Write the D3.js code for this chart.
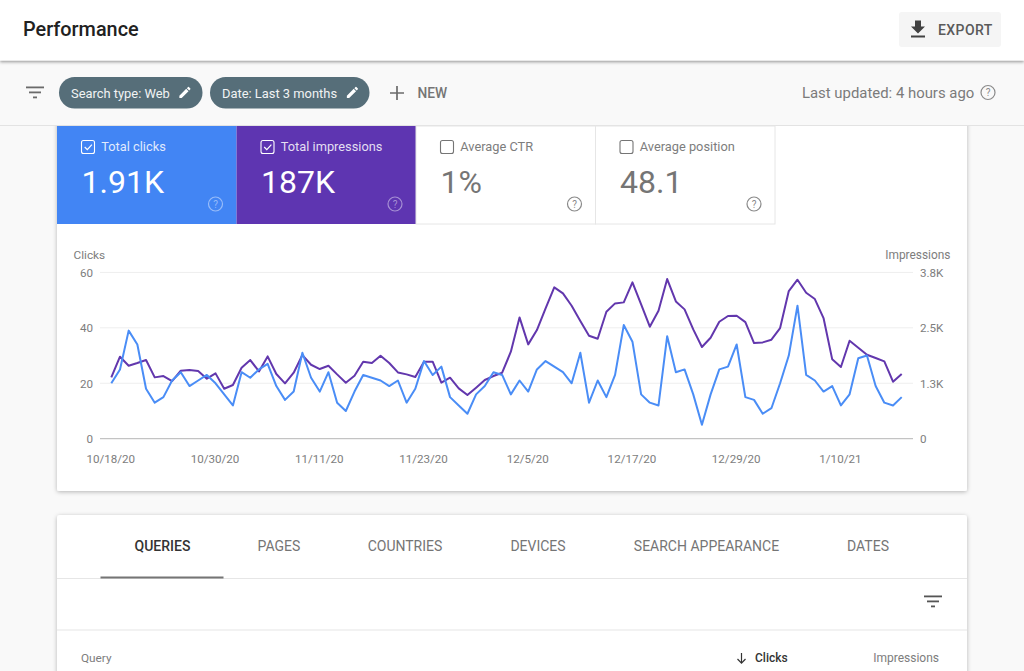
<!DOCTYPE html>
<html>
<head>
<meta charset="utf-8">
<script src="https://cdn.jsdelivr.net/npm/d3@7"></script>
<style>
html,body{margin:0;padding:0;background:#f9f9f9;overflow:hidden}
svg{display:block}
text{font-family:Roboto,sans-serif}
.axis path,.axis line{display:none}
.axis text{font-family:Roboto,sans-serif;font-size:11.6px;fill:#7d7d7d}
</style>
</head>
<body>
<div id="chart"></div>
<script>
const startDate = "10/18/20";
const clicks = [20,25,39,34,18,13,15,21,24,19,21,23,20,16,12,24,22,25,27,19,14,17,31,22,17,24,13,10,17,23,22,21,19,21,13,18,28,23,26,15,12,9,16,19,24,23,16,21,17,25,28,26,24,20,31,13,21,15,23,41,35,16,13,12,37,24,25,16,5,16,25,26,34,15,14,9,11,20,30,48,23,21,17,19,12,16,29,30,19,13,12,15];
const impressions = [1383,1849,1646,1706,1774,1383,1413,1300,1533,1548,1526,1353,1473,1127,1210,1601,1774,1518,1856,1458,1248,1488,1886,1668,1571,1646,1450,1263,1420,1736,1706,1871,1706,1495,1450,1390,1736,1736,1263,1375,1135,984,1150,1323,1413,1488,1961,2735,2127,2450,2938,3412,3276,2998,2653,2322,2254,2863,3051,3074,3525,3029,2525,2886,3600,3096,2916,2465,2067,2277,2638,2766,2773,2630,2157,2172,2232,2495,3329,3585,3291,3149,2720,1789,1616,2209,2052,1894,1819,1744,1285,1458];
const xTickLabels = ["10/18/20","10/30/20","11/11/20","11/23/20","12/5/20","12/17/20","12/29/20","1/10/21"];
const clickTicks = [0,20,40,60];
const impressionTicks = [0,1250,2500,3750];
const impressionTickLabels = ["0","1.3K","2.5K","3.8K"];
const metricLabels = ["Total clicks","Total impressions","Average CTR","Average position"];
const metricValues = ["1.91K","187K","1%","48.1"];
const tabLabels = ["QUERIES","PAGES","COUNTRIES","DEVICES","SEARCH APPEARANCE","DATES"];

const W = 1024, H = 671;
const svg = d3.select("#chart").append("svg").attr("width",W).attr("height",H).attr("viewBox",`0 0 ${W} ${H}`);
const defs = svg.append("defs");
function shadow(id,dy,sd,op){
  const f = defs.append("filter").attr("id",id).attr("x","-5%").attr("y","-20%").attr("width","110%").attr("height","140%");
  f.append("feDropShadow").attr("dx",0).attr("dy",dy).attr("stdDeviation",sd).attr("flood-color","#000").attr("flood-opacity",op);
}
shadow("sh1",1.5,1.5,0.4);
shadow("sh2",1,2,0.28);

function txt(g,x,y,s,size,fill,opts={}){
  return g.append("text").attr("x",x).attr("y",y).text(s)
    .attr("font-size",size).attr("fill",fill)
    .attr("font-weight",opts.w||400).attr("text-anchor",opts.a||"start")
    .attr("letter-spacing",opts.ls||null);
}
function help(g,cx,cy,col){
  g.append("circle").attr("cx",cx).attr("cy",cy).attr("r",7).attr("fill","none").attr("stroke",col).attr("stroke-width",1.2);
  txt(g,cx,cy+3.6,"?",10,col,{a:"middle"});
}
function pencil(g,x,y,col){
  g.append("path").attr("transform",`translate(${x},${y}) scale(0.62)`).attr("fill",col)
   .attr("d","M3 17.25V21h3.75L17.81 9.94l-3.75-3.75L3 17.25zM20.71 7.04a1 1 0 0 0 0-1.41l-2.34-2.34a1 1 0 0 0-1.41 0l-1.83 1.83 3.75 3.75 1.83-1.83z");
}
function filterIcon(g,cx,cy,col){
  [[-9,18],[-6,12],[-2,4]].forEach((d,i)=>{
    g.append("rect").attr("x",cx+d[0]).attr("y",cy-6+i*5).attr("width",d[1]).attr("height",1.8).attr("fill",col);
  });
}

/* main card */
const page = svg.append("g");
page.append("rect").attr("x",57).attr("y",110).attr("width",910).attr("height",381).attr("rx",2).attr("fill","#fff").attr("filter","url(#sh2)");
page.append("rect").attr("x",57).attr("y",515).attr("width",910).attr("height",170).attr("rx",3).attr("fill","#fff").attr("filter","url(#sh2)");

/* filter bar */
const bar = svg.append("g");
bar.append("rect").attr("x",0).attr("y",60).attr("width",W).attr("height",65).attr("fill","#f9f9f9");
bar.append("rect").attr("x",0).attr("y",125).attr("width",W).attr("height",1).attr("fill","#e3e3e3");
filterIcon(bar,35,92.5,"#6b6b6b");
bar.append("rect").attr("x",59).attr("y",77).attr("width",143.5).attr("height",31.5).attr("rx",15.7).attr("fill","#566e79");
txt(bar,71,97.5,"Search type: Web",12.9,"#f1f3f4");
pencil(bar,177.5,85,"#fff");
bar.append("rect").attr("x",210).attr("y",77).attr("width",159.5).attr("height",31.5).attr("rx",15.7).attr("fill","#566e79");
txt(bar,222,97.5,"Date: Last 3 months",12.9,"#f1f3f4");
pencil(bar,345,85,"#fff");
bar.append("path").attr("d","M397 86v14M390 93h14").attr("stroke","#6b6b6b").attr("stroke-width",1.7).attr("fill","none");
txt(bar,417.5,97.5,"NEW",13.8,"#757575",{w:500});
txt(bar,802,97.5,"Last updated: 4 hours ago",14.9,"#7b7b7b");
help(bar,988,92.5,"#8a8a8a");

/* header */
const head = svg.append("g");
head.append("rect").attr("x",0).attr("y",0).attr("width",W).attr("height",60.5).attr("fill","#fff").attr("filter","url(#sh1)");
txt(head,23,35.5,"Performance",19.85,"#212121",{w:500});
head.append("rect").attr("x",899).attr("y",12).attr("width",102).attr("height",35).attr("rx",3).attr("fill","#f5f5f5");
head.append("path").attr("transform","translate(906,17.5) scale(1)").attr("fill","#424242").attr("d","M19 9h-4V3H9v6H5l7 7 7-7zM5 18v2h14v-2H5z");
txt(head,938,34.5,"EXPORT",14,"#5a5a5a",{w:500,ls:"0.4px"});

/* metric tiles */
const tileX = d3.scaleBand().domain(d3.range(metricLabels.length)).range([57,775]);
const tileBg = ["#4285f4","#5e35b1","#fff","#fff"];
const tiles = svg.append("g").selectAll("g").data(metricLabels).join("g")
  .attr("transform",(d,i)=>`translate(${tileX(i)},126)`);
tiles.append("rect").attr("width",tileX.bandwidth()).attr("height",98).attr("fill",(d,i)=>tileBg[i])
  .attr("stroke",(d,i)=>i>1?"#e6e6e6":"none").attr("stroke-width",1);
tiles.each(function(d,i){
  const g = d3.select(this), on = i<2;
  g.append("rect").attr("x",24.5).attr("y",14.5).attr("width",13).attr("height",13).attr("rx",2)
    .attr("fill","none").attr("stroke",on?"#fff":"#757575").attr("stroke-width",1.1);
  if(on) g.append("path").attr("d","M27.7 21l2.6 2.6 4.6-5").attr("fill","none").attr("stroke","#fff").attr("stroke-width",1.2);
  txt(g,44.3,25,d,12.8,on?"rgba(255,255,255,0.85)":"#7d7d7d");
  txt(g,24.5,67,metricValues[i],32,on?"#fff":"#757575");
  help(g,158.5,78,on?"rgba(255,255,255,0.45)":"#8a8a8a");
});

/* line chart */
const parse = d3.timeParse("%m/%d/%y");
const dates = clicks.map((d,i)=>d3.timeDay.offset(parse(startDate),i));
const x = d3.scaleTime().domain([dates[0],dates[dates.length-1]]).range([111.3,901.7]);
const yL = d3.scaleLinear().domain([0,60]).range([438.7,272.4]);
const yR = d3.scaleLinear().domain([0,3750]).range([438.7,272.4]);
const chart = svg.append("g");

chart.append("g").selectAll("line").data(clickTicks).join("line")
  .attr("x1",100).attr("x2",913).attr("y1",d=>yL(d)).attr("y2",d=>yL(d))
  .attr("stroke",d=>d===0?"#b5b5b5":"#eeeeee").attr("stroke-width",1);

chart.append("g").attr("class","axis").attr("transform","translate(93,-0.3)")
  .call(d3.axisLeft(yL).tickValues(clickTicks).tickSize(0).tickPadding(0))
  .selectAll("text").attr("dy","0.36em");
chart.append("g").attr("class","axis").attr("transform","translate(920,-0.3)")
  .call(d3.axisRight(yR).tickValues(impressionTicks).tickSize(0).tickPadding(0).tickFormat((d,i)=>impressionTickLabels[i]))
  .selectAll("text").attr("dy","0.36em");
chart.append("g").attr("class","axis").attr("transform","translate(-1,455)")
  .call(d3.axisBottom(x).tickValues(xTickLabels.map(parse)).tickSize(0).tickPadding(0).tickFormat((d,i)=>xTickLabels[i]))
  .selectAll("text").attr("y",0).attr("dy","0.71em");

txt(chart,73.5,259,"Clicks",11.8,"#7d7d7d");
txt(chart,950.5,259,"Impressions",11.9,"#7d7d7d",{a:"end"});

const lineL = d3.line().x((d,i)=>x(dates[i])).y(d=>yL(d));
const lineR = d3.line().x((d,i)=>x(dates[i])).y(d=>yR(d));
chart.append("path").datum(impressions).attr("d",lineR).attr("fill","none").attr("stroke","#6237ad").attr("stroke-width",2).attr("stroke-linejoin","round");
chart.append("path").datum(clicks).attr("d",lineL).attr("fill","none").attr("stroke","#4a8df6").attr("stroke-width",2).attr("stroke-linejoin","round");

/* table card */
const tbl = svg.append("g");
const tabCx = [162.5,279,405,538,706.5,868];
tabLabels.forEach((t,i)=>txt(tbl,tabCx[i],551,t,14,i===0?"#333":"#757575",{a:"middle",w:i===0?500:400}));
tbl.append("rect").attr("x",57).attr("y",578).attr("width",910).attr("height",1).attr("fill","#e6e6e6");
tbl.append("rect").attr("x",100.5).attr("y",576.5).attr("width",123).attr("height",2).attr("fill","#757575");
tbl.append("rect").attr("x",57).attr("y",629.5).attr("width",910).attr("height",1).attr("fill","#e6e6e6");
filterIcon(tbl,933,601.5,"#555");
txt(tbl,81,662,"Query",11.8,"#7d7d7d");
tbl.append("path").attr("d","M741.5 653v10M737.5 659l4 4.2 4-4.2").attr("fill","none").attr("stroke","#333").attr("stroke-width",1.2);
txt(tbl,755,662,"Clicks",12,"#333",{w:500});
txt(tbl,939,662,"Impressions",12,"#7d7d7d",{a:"end"});
</script>
</body>
</html>
